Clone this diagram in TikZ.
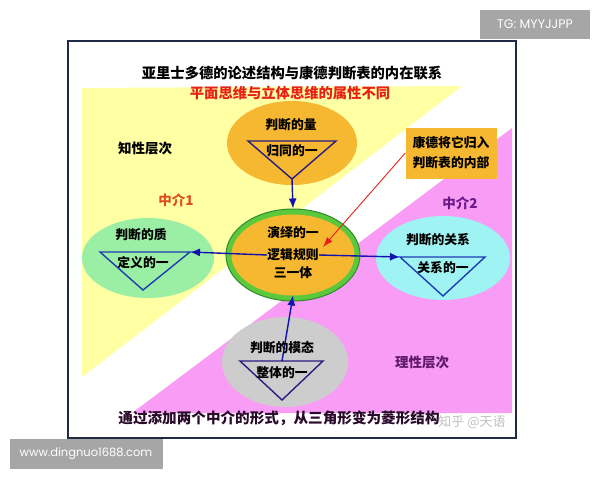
\documentclass[tikz,border=0pt]{standalone}
\usepackage{fontspec}
\newfontfamily\cjk{Noto Sans CJK SC}
\newfontfamily\wm{Poppins}
\usetikzlibrary{shapes.geometric,arrows.meta}
\definecolor{framec}{HTML}{1F2A44}
\definecolor{yel}{HTML}{FFFFA4}
\definecolor{pnk}{HTML}{F99CF5}
\definecolor{orng}{HTML}{F6B731}
\definecolor{ringg}{HTML}{5CC83C}
\definecolor{ringd}{HTML}{2E8B2E}
\definecolor{lgrn}{HTML}{9BEFA5}
\definecolor{lcyan}{HTML}{A0F3F3}
\definecolor{lgray}{HTML}{CDCDCD}
\definecolor{navy}{HTML}{2A1C80}
\definecolor{tblue}{HTML}{1E3CB4}
\definecolor{abl}{HTML}{1212B0}
\definecolor{ared}{HTML}{E8201A}
\definecolor{mid1}{HTML}{E0501E}
\definecolor{mid2}{HTML}{6A1A8A}
\definecolor{rat}{HTML}{5E1A6E}
\definecolor{btxt}{HTML}{2A0A2A}
\definecolor{wmg}{HTML}{A6A6A6}
\tikzset{
  ell/.style={ellipse, inner sep=0pt},
  tri/.style={draw=navy, line width=1.4pt, line join=miter},
  trib/.style={draw=tblue, line width=1.4pt, line join=miter},
  barrow/.style={draw=abl, line width=1.4pt, -{Latex[length=10pt,width=8pt]}},
  rarrow/.style={draw=ared, line width=0.9pt, -{Latex[length=10pt,width=7pt]}},
  lbl/.style={inner sep=0pt, text=black},
  wmbox/.style={fill=wmg, text=white, inner sep=0pt, font=\wm\fontsize{12.5}{14}\selectfont}
}
\begin{document}
\begin{tikzpicture}[x=1pt,y=-1pt, font=\cjk\bfseries\fontsize{12.8}{15}\selectfont]
\useasboundingbox (0,0) rectangle (600,480);
\fill[white] (0,0) rectangle (600,480);
% background triangles
\fill[yel] (82,88) -- (462,86) -- (82,377) -- cycle;
\fill[pnk] (512,128) -- (512,413) -- (132,413) -- cycle;
% frame
\draw[framec, line width=1.5pt] (68,41) rectangle (516,438);
% titles
\node[lbl, font=\cjk\bfseries\fontsize{14.3}{16}\selectfont] (title) at (292,73) {亚里士多德的论述结构与康德判断表的内在联系};
\node[lbl, text=ared, font=\cjk\bfseries\fontsize{14.3}{16}\selectfont] (sub) at (290,93) {平面思维与立体思维的属性不同};
% level labels
\node[lbl, font=\cjk\bfseries\fontsize{13.5}{16}\selectfont] (zx) at (145,148) {知性层次};
\node[lbl, text=mid1, font=\cjk\bfseries\fontsize{13.5}{16}\selectfont] (m1) at (176,200) {中介1};
\node[lbl, text=mid2, font=\cjk\bfseries\fontsize{13.5}{16}\selectfont] (m2) at (460,203) {中介2};
\node[lbl, text=rat, font=\cjk\bfseries\fontsize{13.5}{16}\selectfont] (lx) at (422,362) {理性层次};
% top ellipse (quantity)
\node[ell, fill=orng, minimum width=130pt, minimum height=84pt] (qty) at (292,143) {};
\node[lbl] (qt) at (291,125) {判断的量};
\coordinate (qA) at (248,141);
\coordinate (qB) at (336,141);
\coordinate (qC) at (292,179);
\draw[tri] (qA) -- (qB) -- (qC) -- cycle;
\node[lbl] (qs) at (292,151) {归同的一};
% left ellipse (quality)
\node[ell, fill=lgrn, minimum width=132pt, minimum height=80pt] (qal) at (148,258) {};
\node[lbl] (qalt) at (141,235) {判断的质};
\coordinate (lA) at (100,252);
\coordinate (lB) at (190,252);
\coordinate (lC) at (143,290);
\draw[trib] (lA) -- (lB) -- (lC) -- cycle;
\node[lbl] (qals) at (143,263) {定义的一};
% right ellipse (relation)
\node[ell, fill=lcyan, minimum width=134pt, minimum height=84pt] (rel) at (443,258) {};
\node[lbl] (relt) at (438,240) {判断的关系};
\coordinate (rA) at (400,257);
\coordinate (rB) at (485,257);
\coordinate (rC) at (443,296);
\draw[trib] (rA) -- (rB) -- (rC) -- cycle;
\node[lbl] (rels) at (443,268) {关系的一};
% bottom ellipse (modality)
\node[ell, fill=lgray, minimum width=126pt, minimum height=90pt] (mod) at (285,362) {};
\coordinate (mA) at (240,361);
\coordinate (mB) at (323,361);
\coordinate (mC) at (282,400);
\coordinate (mM) at (282,361);
\draw[tri] (mA) -- (mB) -- (mC) -- cycle;
% center ellipse
\node[ell, fill=ringg, draw=ringd, line width=1pt, minimum width=134pt, minimum height=92pt] (ctr) at (293,255) {};
\node[ell, fill=orng, minimum width=123pt, minimum height=81pt] (ctri) at (293,255) {};
\node[lbl] (c1) at (293,233) {演绎的一};
\node[lbl] (c2) at (293,255) {逻辑规则};
\node[lbl] (c3) at (293,273) {三一体};
% kant box
\node[fill=orng, minimum width=91pt, minimum height=51pt, inner sep=0pt, align=center, font=\cjk\bfseries\fontsize{12.8}{20}\selectfont] (kant) at (451,153) {康德将它归入\\判断表的内部};
\coordinate (rt) at (323,247);
% arrows
\draw[barrow] (qC) -- (ctr.north);
\draw[barrow] (c2.west) -- (lB);
\draw[barrow] (c2.east) -- (rA);
\draw[barrow] (mM) -- ([yshift=6pt]ctr.south);
\draw[rarrow] (kant.west) -- (rt);
% bottom modal texts (over arrow)
\node[lbl] (mt) at (282,348) {判断的模态};
\node[lbl] (ms) at (282,373) {整体的一};
% bottom text
\node[lbl, text=btxt, font=\cjk\bfseries\fontsize{14.6}{16}\selectfont] (bt) at (279,418) {通过添加两个中介的形式，从三角形变为菱形结构};
\node[lbl, text=lgray!85!gray, font=\cjk\fontsize{13}{15}\selectfont] (zh) at (472,422) {知乎 @天语};
% watermarks
\node[wmbox, minimum width=110pt, minimum height=29pt] (tg) at (535,24) {TG: MYYJJPP};
\node[wmbox, minimum width=153pt, minimum height=30pt, font=\wm\fontsize{11.5}{13}\selectfont] (www) at (86,454) {www.dingnuo1688.com};
\end{tikzpicture}
\end{document}
